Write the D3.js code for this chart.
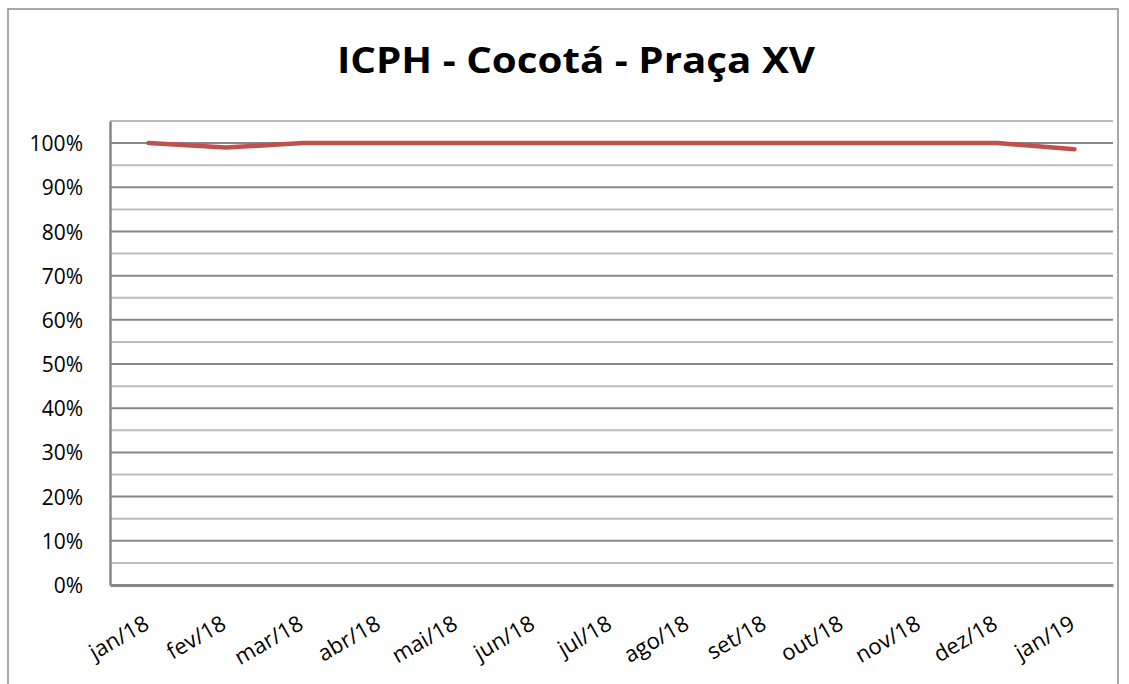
<!DOCTYPE html>
<html>
<head>
<meta charset="utf-8">
<script src="https://cdn.jsdelivr.net/npm/d3@7.9.0/dist/d3.min.js"></script>
<style>
  body { margin: 0; background: #fff; }
  svg { display: block; font-family: "Open Sans", sans-serif; }
</style>
</head>
<body>
<svg id="chart" width="1129" height="684"></svg>
<script>
// chart data
const months = ["jan/18", "fev/18", "mar/18", "abr/18", "mai/18", "jun/18", "jul/18",
  "ago/18", "set/18", "out/18", "nov/18", "dez/18", "jan/19"];
const icph = [1.0, 0.99, 1.0, 1.0, 1.0, 1.0, 1.0, 1.0, 1.0, 1.0, 1.0, 1.0, 0.986];
const yTicks = [0, 0.1, 0.2, 0.3, 0.4, 0.5, 0.6, 0.7, 0.8, 0.9, 1.0];
const minorTicks = [0.05, 0.15, 0.25, 0.35, 0.45, 0.55, 0.65, 0.75, 0.85, 0.95, 1.05];
const title = "ICPH - Cocotá - Praça XV";

const svg = d3.select("#chart");
const plotL = 110, plotR = 1113, plotT = 121, plotB = 585;

// outer chart border (runs off right/bottom edges)
svg.append("rect")
  .attr("x", 8).attr("y", 9)
  .attr("width", 1110).attr("height", 700)
  .attr("fill", "none")
  .attr("stroke", "#8c8c8c")
  .attr("stroke-width", 1.5);

// title
svg.append("text")
  .attr("x", 576).attr("y", 73)
  .attr("text-anchor", "middle")
  .attr("font-size", 36)
  .attr("font-weight", "bold")
  .attr("fill", "#000")
  .attr("textLength", 478)
  .attr("lengthAdjust", "spacingAndGlyphs")
  .text(title);

const x = d3.scaleBand().domain(months).range([plotL, plotR]);
const y = d3.scaleLinear().domain([0, 1.05]).range([plotB, plotT]);

// minor gridlines
svg.append("g").selectAll("line").data(minorTicks).join("line")
  .attr("x1", plotL).attr("x2", plotR)
  .attr("y1", d => y(d)).attr("y2", d => y(d))
  .attr("stroke", "#bcbcbc").attr("stroke-width", 2);

// major gridlines
svg.append("g").selectAll("line").data(yTicks.filter(d => d > 0)).join("line")
  .attr("x1", plotL).attr("x2", plotR)
  .attr("y1", d => y(d)).attr("y2", d => y(d))
  .attr("stroke", "#888888").attr("stroke-width", 2);

// y axis
const yAxis = svg.append("g")
  .attr("transform", `translate(${plotL},0)`)
  .call(d3.axisLeft(y).tickValues(yTicks).tickFormat(d3.format(".0%")).tickSize(0).tickPadding(27));
yAxis.select(".domain").attr("stroke", "#888888").attr("stroke-width", 2.5);
yAxis.selectAll("text")
  .attr("font-size", 21)
  .attr("font-family", "Open Sans, sans-serif")
  .attr("fill", "#000")
  .attr("dy", "0.36em");

// x axis
const xAxis = svg.append("g")
  .attr("transform", `translate(0,${plotB})`)
  .call(d3.axisBottom(x).tickSize(0).tickPadding(0));
xAxis.select(".domain").attr("stroke", "#888888").attr("stroke-width", 3);
xAxis.selectAll("text")
  .attr("font-size", 22)
  .attr("font-family", "Open Sans, sans-serif")
  .attr("fill", "#000")
  .attr("text-anchor", "end")
  .attr("y", 0).attr("dy", 0)
  .attr("transform", "translate(2,43) rotate(-30)");

// series line
const line = d3.line()
  .x((d, i) => x(months[i]) + x.bandwidth() / 2)
  .y(d => y(d));

svg.append("path")
  .datum(icph)
  .attr("d", line)
  .attr("fill", "none")
  .attr("stroke", "#c0504d")
  .attr("stroke-width", 4.5)
  .attr("stroke-linecap", "round")
  .attr("stroke-linejoin", "round");
</script>
</body>
</html>
